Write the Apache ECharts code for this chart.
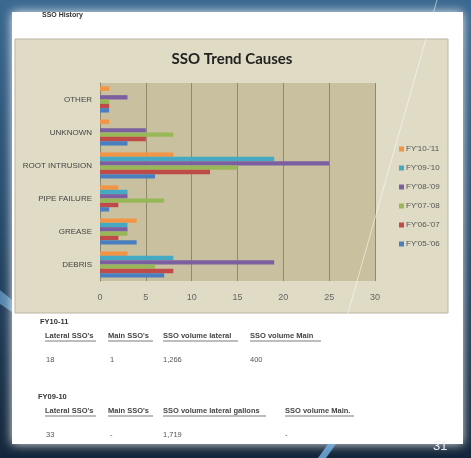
<!DOCTYPE html>
<html>
<head>
<meta charset="utf-8">
<script src="https://cdn.jsdelivr.net/npm/echarts@6/dist/echarts.min.js"></script>
<style>
  html, body { margin: 0; padding: 0; }
  #chart { width: 471px; height: 458px; }
</style>
</head>
<body>
<div id="chart"></div>
<script>
// 分类和数据
const causes = ['DEBRIS', 'GREASE', 'PIPE FAILURE', 'ROOT INTRUSION', 'UNKNOWN', 'OTHER']
const years = ["FY'05-'06", "FY'06-'07", "FY'07-'08", "FY'08-'09", "FY'09-'10", "FY'10-'11"]
const fy0506 = [7, 4, 1, 6, 3, 1]
const fy0607 = [8, 2, 2, 12, 5, 1]
const fy0708 = [6, 3, 7, 15, 8, 1]
const fy0809 = [19, 3, 3, 25, 5, 3]
const fy0910 = [8, 3, 3, 19, 0, 0]
const fy1011 = [3, 4, 2, 8, 1, 1]
const xTicks = [0, 5, 10, 15, 20, 25, 30]

const seriesValues = [fy0506, fy0607, fy0708, fy0809, fy0910, fy1011]
const colors = ['#4a7fbf', '#bf4b48', '#98b857', '#7c5fa0', '#45a9c4', '#f39344']

const chart = echarts.init(document.getElementById('chart'))

// 表格下方文字
const font = '"Liberation Sans", sans-serif'
const txt = (x, y, text, size, weight, color) => ({
    type: 'text', x, y,
    style: { text, font: `${weight || 'normal'} ${size}px ${font}`, fill: color || '#333' }
})
const uline = (x1, x2, y) => ({
    type: 'line', shape: { x1, y1: y, x2, y2: y },
    style: { stroke: '#444', lineWidth: 0.7 }
})

// 横向柱子: ECharts 把第一个系列画在最上面, 所以倒序
const order = [5, 4, 3, 2, 1, 0]

const options = {
    backgroundColor: {
        type: 'linear', x: 0, y: 0, x2: 0, y2: 1,
        colorStops: [
            { offset: 0, color: '#3a6890' },
            { offset: 0.5, color: '#25496a' },
            { offset: 1, color: '#14263a' }
        ]
    },
    graphic: [
        {
            type: 'rect', z: -10, silent: true,
            shape: { x: 12, y: 12, width: 451, height: 432 },
            style: { fill: '#ffffff', shadowColor: 'rgba(255,255,255,0.9)', shadowBlur: 10 }
        },
        {
            type: 'rect', z: -9, silent: true,
            shape: { x: 15, y: 39, width: 433, height: 274 },
            style: { fill: '#dfdbc5', stroke: '#b9b59e', lineWidth: 1 }
        },
        {
            type: 'line', z: 50, silent: true,
            shape: { x1: 437, y1: 0, x2: 346, y2: 320 },
            style: { stroke: 'rgba(255,255,255,0.55)', lineWidth: 1 }
        },
        {
            type: 'polygon', z: 50, silent: true,
            shape: { points: [[318, 458], [328, 444], [336, 444], [326, 458]] },
            style: { fill: 'rgba(120,180,230,0.8)' }
        },
        {
            type: 'polygon', z: -11, silent: true,
            shape: { points: [[0, 290], [12, 300], [12, 312], [0, 304]] },
            style: { fill: 'rgba(120,180,230,0.6)' }
        },
        txt(42, 12, 'SSO History', 7, 'bold', '#333'),
        {
            type: 'text', x: 232, y: 52,
            style: {
                text: 'SSO Trend Causes', font: 'bold 15px Lato, sans-serif',
                fill: '#222', align: 'center'
            }
        },
        txt(40, 318, 'FY10-11', 7.5, 'bold', '#333'),
        txt(45, 332, "Lateral SSO's", 7.5, 'bold', '#444'),
        txt(108, 332, "Main SSO's", 7.5, 'bold', '#444'),
        txt(163, 332, 'SSO volume lateral', 7.5, 'bold', '#444'),
        txt(250, 332, 'SSO volume Main', 7.5, 'bold', '#444'),
        uline(45, 96, 341), uline(108, 153, 341), uline(163, 238, 341), uline(250, 321, 341),
        txt(46, 356, '18', 7.5, 'normal', '#555'),
        txt(110, 356, '1', 7.5, 'normal', '#555'),
        txt(163, 356, '1,266', 7.5, 'normal', '#555'),
        txt(250, 356, '400', 7.5, 'normal', '#555'),
        txt(38, 393, 'FY09-10', 7.5, 'bold', '#333'),
        txt(45, 407, "Lateral SSO's", 7.5, 'bold', '#444'),
        txt(108, 407, "Main SSO's", 7.5, 'bold', '#444'),
        txt(163, 407, 'SSO volume lateral gallons', 7.5, 'bold', '#444'),
        txt(285, 407, 'SSO volume Main.', 7.5, 'bold', '#444'),
        uline(45, 96, 416), uline(108, 153, 416), uline(163, 266, 416), uline(285, 354, 416),
        txt(46, 431, '33', 7.5, 'normal', '#555'),
        txt(110, 431, '-', 7.5, 'normal', '#555'),
        txt(163, 431, '1,719', 7.5, 'normal', '#555'),
        txt(285, 431, '-', 7.5, 'normal', '#555'),
        txt(433, 440, '31', 13, 'normal', '#e8eef4')
    ],
    legend: {
        orient: 'vertical',
        left: 394, top: 140,
        data: years.slice().reverse(),
        icon: 'rect',
        itemWidth: 5, itemHeight: 5, itemGap: 11,
        textStyle: { fontSize: 8, color: '#555', fontFamily: font, padding: [0, 0, 0, -3] }
    },
    grid: {
        left: 100, right: 96, top: 83, bottom: 177,
        show: true, backgroundColor: '#c8c09e', borderWidth: 0
    },
    xAxis: {
        type: 'value',
        min: xTicks[0], max: xTicks[xTicks.length - 1], interval: 5,
        axisLine: { show: false },
        axisTick: { show: false },
        axisLabel: { color: '#666', fontSize: 9, fontFamily: font, margin: 12 },
        splitLine: { lineStyle: { color: '#8e8a6e', width: 1 } }
    },
    yAxis: {
        type: 'category',
        data: causes,
        axisLine: { show: true, lineStyle: { color: '#8e8a6e' } },
        axisTick: { show: false },
        axisLabel: { color: '#444', fontSize: 8, fontFamily: font, margin: 8 }
    },
    series: order.map(i => ({
        name: years[i],
        type: 'bar',
        data: seriesValues[i],
        itemStyle: { color: colors[i] },
        barGap: '0%',
        barCategoryGap: '21%'
    }))
}

chart.setOption(options)
</script>
</body>
</html>
